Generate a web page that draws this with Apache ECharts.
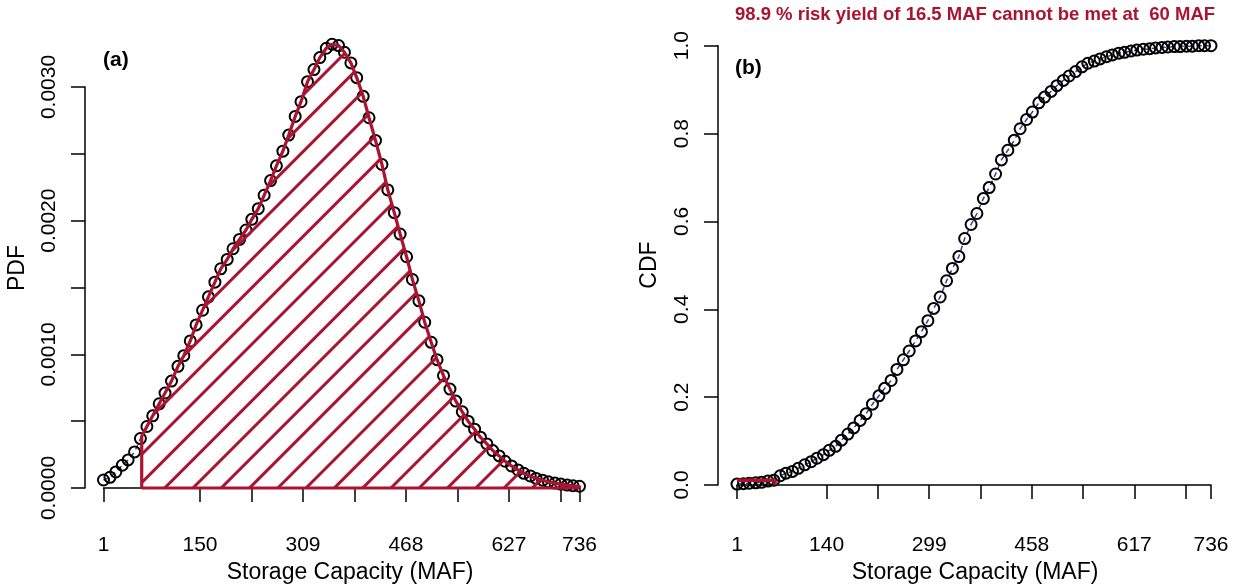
<!DOCTYPE html>
<html>
<head>
<meta charset="utf-8">
<script src="https://cdn.jsdelivr.net/npm/echarts@6/dist/echarts.min.js"></script>
<style>
  html, body { margin: 0; padding: 0; background: #ffffff; }
  #chart { width: 1238px; height: 584px; }
</style>
</head>
<body>
<div id="chart"></div>
<script>
// Storage capacity samples (MAF) shared by both panels
const storage = [
  1, 11, 20, 30, 39, 49, 58, 68, 77, 87, 96, 106, 116, 125, 135, 144, 154, 163, 173, 182,
  192, 201, 211, 221, 230, 240, 249, 259, 268, 278, 287, 297, 306, 316, 326, 335, 345, 354, 364, 373,
  383, 392, 402, 411, 421, 431, 440, 450, 459, 469, 478, 488, 497, 507, 516, 526, 536, 545, 555, 564,
  574, 583, 593, 602, 612, 621, 631, 641, 650, 660, 669, 679, 688, 698, 707, 717, 726, 736
];

// Probability density of required storage
const pdfValues = [
  0.000060, 0.000080, 0.000120, 0.000170, 0.000210, 0.000270, 0.000370, 0.000460, 0.000540, 0.000630,
  0.000710, 0.000800, 0.000910, 0.000990, 0.001100, 0.001220, 0.001330, 0.001430, 0.001540, 0.001640,
  0.001710, 0.001790, 0.001860, 0.001930, 0.002010, 0.002090, 0.002190, 0.002300, 0.002410, 0.002520,
  0.002640, 0.002780, 0.002890, 0.003040, 0.003130, 0.003220, 0.003290, 0.003320, 0.003310, 0.003260,
  0.003180, 0.003070, 0.002930, 0.002770, 0.002600, 0.002420, 0.002230, 0.002060, 0.001900, 0.001730,
  0.001560, 0.001400, 0.001240, 0.001090, 0.000960, 0.000840, 0.000740, 0.000650, 0.000570, 0.000500,
  0.000440, 0.000380, 0.000330, 0.000280, 0.000240, 0.000200, 0.000165, 0.000135, 0.000110, 0.000090,
  0.000072, 0.000058, 0.000046, 0.000037, 0.000029, 0.000022, 0.000017, 0.000013
];

// Cumulative distribution of required storage
const cdfValues = [
  0.002, 0.003, 0.004, 0.005, 0.006, 0.009, 0.011, 0.021, 0.027, 0.031,
  0.038, 0.046, 0.053, 0.061, 0.069, 0.079, 0.088, 0.102, 0.116, 0.130,
  0.147, 0.162, 0.184, 0.203, 0.220, 0.238, 0.263, 0.285, 0.305, 0.328,
  0.349, 0.374, 0.402, 0.428, 0.465, 0.493, 0.520, 0.561, 0.593, 0.618,
  0.652, 0.677, 0.708, 0.740, 0.762, 0.785, 0.811, 0.832, 0.849, 0.870,
  0.883, 0.896, 0.909, 0.921, 0.931, 0.941, 0.952, 0.960, 0.965, 0.970,
  0.975, 0.979, 0.983, 0.985, 0.988, 0.990, 0.992, 0.993, 0.995, 0.996,
  0.997, 0.998, 0.998, 0.999, 0.999, 1.000, 1.000, 1.000
];

// Reliability statement
const riskPercent = 98.9;
const yieldMAF = 16.5;
const thresholdMAF = 60;

// Axis ticks and labels
const pdfXTicks = [1, 150, 229.5, 309, 388.5, 468, 547.5, 627, 706.5, 736];
const pdfXLabels = [1, 150, 309, 468, 627, 736];
const cdfXTicks = [1, 140, 219.5, 299, 378.5, 458, 537.5, 617, 696.5, 736];
const cdfXLabels = [1, 140, 299, 458, 617, 736];
const pdfYLabels = [0, 0.001, 0.002, 0.003];
const cdfYLabels = [0, 0.2, 0.4, 0.6, 0.8, 1.0];

const RED = '#AA1430';
const BLUE = '#3b3b9b';
const FONT = '"Liberation Sans", Arial, Helvetica, sans-serif';
const TICK_SIZE = 21;
const TITLE_SIZE = 23;

const pdfPairs = storage.map((x, i) => [x, pdfValues[i]]);
const cdfPairs = storage.map((x, i) => [x, cdfValues[i]]);

// Density at the threshold, taken between its two neighbouring samples
function valueAt(xs, ys, x) {
  for (let i = 1; i < xs.length; i++) {
    if (xs[i] >= x) {
      const t = (x - xs[i - 1]) / (xs[i] - xs[i - 1]);
      return ys[i - 1] + t * (ys[i] - ys[i - 1]);
    }
  }
  return ys[ys.length - 1];
}
const pdfAtThreshold = valueAt(storage, pdfValues, thresholdMAF);

// Region beyond the threshold (hatched)
const exceedArea = [[thresholdMAF, 0], [thresholdMAF, pdfAtThreshold]]
  .concat(pdfPairs.filter(p => p[0] > thresholdMAF))
  .concat([[storage[storage.length - 1], 0]]);
const exceedBase = [[thresholdMAF, 0], [storage[storage.length - 1], 0]];

// Probability below the threshold on the CDF
const nonExceed = (100 - riskPercent) / 100;
const cdfMark = [[storage[0], nonExceed], [thresholdMAF, nonExceed], [thresholdMAF, 0]];

const axisLineStyle = { show: true, lineStyle: { color: '#000', width: 1.5 } };
const tickStyle = { color: '#000', width: 1.5 };
const labelBase = { color: '#000', fontSize: TICK_SIZE, fontFamily: FONT };

const circleStyle = {
  color: 'rgba(0,0,0,0)',
  borderColor: '#000',
  borderWidth: 2,
  opacity: 1
};

const option = {
  backgroundColor: '#ffffff',
  animation: false,
  grid: [
    { left: 103.5, top: 87, width: 476, height: 401 },
    { left: 737, top: 45.7, width: 474, height: 439.3 }
  ],
  xAxis: [
    {
      gridIndex: 0, type: 'value', min: 1, max: 736, offset: 15,
      axisLine: axisLineStyle,
      axisTick: { show: true, length: 14, customValues: pdfXTicks, lineStyle: tickStyle },
      axisLabel: Object.assign({ customValues: pdfXLabels, margin: 32 }, labelBase),
      splitLine: { show: false }
    },
    {
      gridIndex: 1, type: 'value', min: 1, max: 736, offset: 18,
      axisLine: axisLineStyle,
      axisTick: { show: true, length: 14, customValues: cdfXTicks, lineStyle: tickStyle },
      axisLabel: Object.assign({ customValues: cdfXLabels, margin: 32 }, labelBase),
      splitLine: { show: false }
    }
  ],
  yAxis: [
    {
      gridIndex: 0, type: 'value', min: 0, max: 0.003, interval: 0.0005, offset: 18.5,
      axisLine: axisLineStyle,
      axisTick: { show: true, length: 14, lineStyle: tickStyle },
      axisLabel: Object.assign({
        customValues: pdfYLabels, rotate: 90, margin: 25,
        formatter: v => Number(v).toFixed(4)
      }, labelBase),
      splitLine: { show: false }
    },
    {
      gridIndex: 1, type: 'value', min: 0, max: 1, interval: 0.2, offset: 19,
      axisLine: axisLineStyle,
      axisTick: { show: true, length: 14, lineStyle: tickStyle },
      axisLabel: Object.assign({
        customValues: cdfYLabels, rotate: 90, margin: 25,
        formatter: v => Number(v).toFixed(1)
      }, labelBase),
      splitLine: { show: false }
    }
  ],
  series: [
    {
      type: 'line', xAxisIndex: 0, yAxisIndex: 0, data: pdfPairs,
      showSymbol: false, symbol: 'none', clip: false, z: 2,
      lineStyle: { color: BLUE, width: 1.5, type: [5, 4] }
    },
    {
      type: 'scatter', xAxisIndex: 0, yAxisIndex: 0, data: pdfPairs,
      symbol: 'circle', symbolSize: 11, clip: false, z: 3,
      itemStyle: circleStyle
    },
    {
      type: 'line', xAxisIndex: 0, yAxisIndex: 0, data: exceedArea,
      showSymbol: false, symbol: 'none', clip: false, z: 4,
      lineStyle: { color: RED, width: 3.2 },
      areaStyle: { color: 'rgba(255,255,255,0)', opacity: 1 },
      itemStyle: {
        color: RED,
        decal: {
          symbol: 'rect', symbolSize: 1,
          dashArrayX: [1, 0], dashArrayY: [3, 17],
          rotation: -Math.PI / 4,
          color: RED, backgroundColor: 'rgba(255,255,255,0)'
        }
      }
    },
    {
      type: 'line', xAxisIndex: 0, yAxisIndex: 0, data: exceedBase,
      showSymbol: false, symbol: 'none', clip: false, z: 4,
      lineStyle: { color: RED, width: 3.2 }
    },
    {
      type: 'line', xAxisIndex: 1, yAxisIndex: 1, data: cdfPairs,
      showSymbol: false, symbol: 'none', clip: false, z: 2,
      lineStyle: { color: BLUE, width: 1.5, type: [5, 4] }
    },
    {
      type: 'scatter', xAxisIndex: 1, yAxisIndex: 1, data: cdfPairs,
      symbol: 'circle', symbolSize: 11, clip: false, z: 3,
      itemStyle: circleStyle
    },
    {
      type: 'line', xAxisIndex: 1, yAxisIndex: 1, data: cdfMark,
      showSymbol: false, symbol: 'none', clip: false, z: 4,
      lineStyle: { color: RED, width: 3.5 }
    }
  ],
  graphic: [
    {
      type: 'text', x: 975, y: 15,
      style: {
        text: riskPercent + ' % risk yield of ' + yieldMAF + ' MAF cannot be met at  ' + thresholdMAF + ' MAF',
        fill: RED, font: 'bold 18.5px ' + FONT, textAlign: 'center', textVerticalAlign: 'middle'
      }
    },
    {
      type: 'text', x: 103, y: 60,
      style: { text: '(a)', fill: '#000', font: 'bold 21px ' + FONT, textAlign: 'left', textVerticalAlign: 'middle' }
    },
    {
      type: 'text', x: 735, y: 68,
      style: { text: '(b)', fill: '#000', font: 'bold 21px ' + FONT, textAlign: 'left', textVerticalAlign: 'middle' }
    },
    {
      type: 'text', x: 18, y: 268, rotation: Math.PI / 2,
      style: { text: 'PDF', fill: '#000', font: TITLE_SIZE + 'px ' + FONT, textAlign: 'center', textVerticalAlign: 'middle' }
    },
    {
      type: 'text', x: 650, y: 265, rotation: Math.PI / 2,
      style: { text: 'CDF', fill: '#000', font: TITLE_SIZE + 'px ' + FONT, textAlign: 'center', textVerticalAlign: 'middle' }
    },
    {
      type: 'text', x: 350, y: 573,
      style: { text: 'Storage Capacity (MAF)', fill: '#000', font: TITLE_SIZE + 'px ' + FONT, textAlign: 'center', textVerticalAlign: 'middle' }
    },
    {
      type: 'text', x: 975, y: 573,
      style: { text: 'Storage Capacity (MAF)', fill: '#000', font: TITLE_SIZE + 'px ' + FONT, textAlign: 'center', textVerticalAlign: 'middle' }
    }
  ]
};

const chart = echarts.init(document.getElementById('chart'), null, { renderer: 'canvas' });
chart.setOption(option);
</script>
</body>
</html>
